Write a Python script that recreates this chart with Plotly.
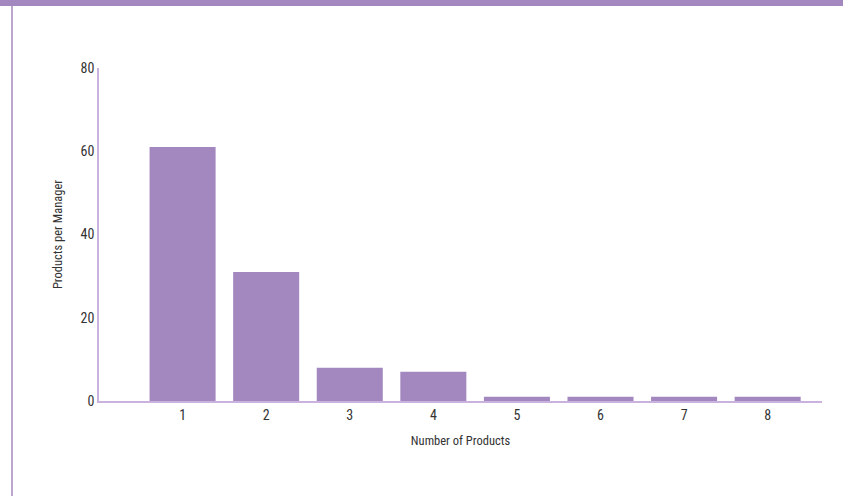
import plotly.graph_objects as go

categories = [1, 2, 3, 4, 5, 6, 7, 8]
values = [61, 31, 8, 7, 1, 1, 1, 1]
y_ticks = [0, 20, 40, 60, 80]

W, H = 843, 496
L, R, T, B = 99, 21, 68, 95
pw, ph = W - L - R, H - T - B

def px(x):
    return (x - L) / pw

def py(y):
    return (H - B - y) / ph

purple = "#A388BF"
axis_col = "#C9B3DE"
font_fam = "Liberation Sans Narrow, Roboto Condensed, Roboto, Arial, sans-serif"

fig = go.Figure(go.Bar(
    x=categories, y=values, marker_color=purple, marker_line_width=0, width=0.79,
))

fig.update_layout(
    width=W, height=H,
    margin=dict(l=L, r=R, t=T, b=B),
    paper_bgcolor="white", plot_bgcolor="white",
    showlegend=False,
    font=dict(family=font_fam, size=13, color="#333333"),
    xaxis=dict(
        range=[0, 8.65], tickmode="array", tickvals=categories,
        ticktext=[str(c) for c in categories], tickfont=dict(size=14),
        showgrid=False, zeroline=False, showline=True, linecolor=axis_col, linewidth=1.5,
        ticks="", title=dict(text="Number of Products", font=dict(size=12.5), standoff=15),
    ),
    yaxis=dict(
        range=[0, 80], tickmode="array", tickvals=y_ticks, tickfont=dict(size=14),
        showgrid=False, zeroline=False, showline=True, linecolor=axis_col, linewidth=1.5,
        ticks="", title=dict(text="Products per Manager", font=dict(size=12.5), standoff=15),
    ),
    shapes=[
        dict(type="rect", xref="paper", yref="paper", x0=px(0), x1=px(W), y0=py(0), y1=py(6),
             fillcolor=purple, line_width=0, layer="above"),
        dict(type="line", xref="paper", yref="paper", x0=px(12), x1=px(12), y0=py(0), y1=py(H),
             line=dict(color=purple, width=1.5)),
    ],
)

fig.write_html(
    "out.html",
    config={"displayModeBar": False},
    post_script="document.body.style.margin='0';document.body.style.padding='0';document.body.style.overflow='hidden';",
)
